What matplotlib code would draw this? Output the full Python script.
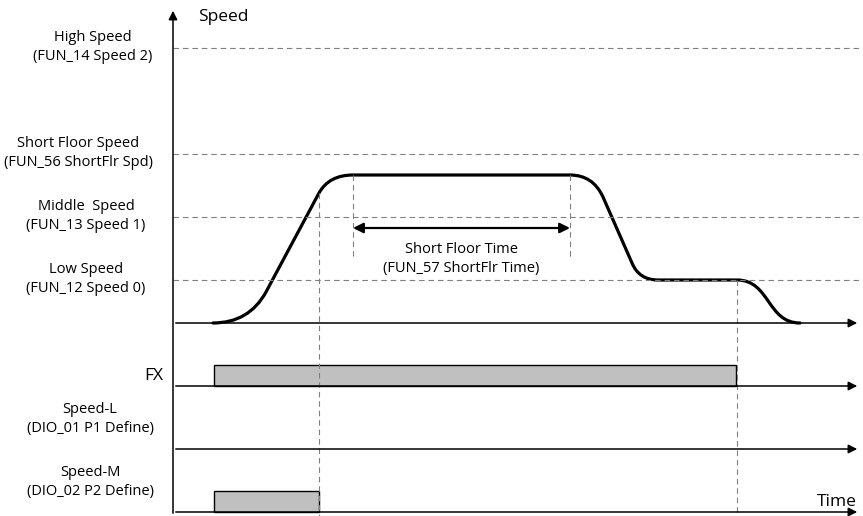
import matplotlib
matplotlib.use("Agg")
import matplotlib.pyplot as plt
from matplotlib.path import Path
from matplotlib.patches import PathPatch

plt.rcParams['font.family'] = ['Open Sans', 'DejaVu Sans']

# speed levels (y position on the diagram, pixel-like units, y grows downward)
level_labels = ["High Speed\n(FUN_14 Speed 2)", "Short Floor Speed\n(FUN_56 ShortFlr Spd)",
                "Middle  Speed\n(FUN_13 Speed 1)", "Low Speed\n(FUN_12 Speed 0)"]
level_y = [48, 154, 217, 280]
level_label_x = [93, 78, 86, 86]

# speed profile: vertices and path codes (quadratic/cubic corners)
profile_t = [213, 249, 266, 319, 329, 353, 570, 593, 603, 632, 639, 658, 737, 770, 767, 800]
profile_v = [323, 323, 292, 193, 175, 175, 175, 175, 197, 263, 280, 280, 280, 280, 323, 323]
profile_codes = [Path.MOVETO, Path.CURVE3, Path.CURVE3, Path.LINETO, Path.CURVE3, Path.CURVE3,
                 Path.LINETO, Path.CURVE3, Path.CURVE3, Path.LINETO, Path.CURVE3, Path.CURVE3,
                 Path.LINETO, Path.CURVE4, Path.CURVE4, Path.CURVE4]

# signal rows
sig_names = ["FX", "Speed-L\n(DIO_01 P1 Define)", "Speed-M\n(DIO_02 P2 Define)"]
sig_base = [386, 449, 512]
sig_on = [214, None, 214]
sig_off = [736, None, 319]
sig_high = 21
speed_base = 323

# timing marks
mark_t = [319, 353, 570, 737]
mark_top = [193, 175, 175, 280]
mark_bottom = [516, 260, 260, 516]
sft_start, sft_end, sft_y = 353, 570, 228

axis_x = 173
x_end = 860

fig = plt.figure(figsize=(8.63, 5.16), dpi=100)
ax = fig.add_axes([0, 0, 1, 1])
ax.set_xlim(0, 863)
ax.set_ylim(516, 0)
ax.axis('off')

dash = dict(color='#808080', lw=0.8, ls=(0, (5, 3.5)))

# speed level dashed lines + labels
for lab, y, lx in zip(level_labels, level_y, level_label_x):
    ax.plot([axis_x, 863], [y, y], **dash)
    ax.text(lx, y - 1, lab, ha='center', va='center', fontsize=10.5, linespacing=1.32)

# timing dashed verticals
for t, y0, y1 in zip(mark_t, mark_top, mark_bottom):
    ax.plot([t, t], [y0, y1], **dash)

# vertical speed axis
ax.annotate('', xy=(axis_x, 8), xytext=(axis_x, 516),
            arrowprops=dict(arrowstyle='-|>', color='black', lw=1.1, mutation_scale=13))
ax.text(198, 17, "Speed", ha='left', va='center', fontsize=12.5)

# horizontal baselines with arrows
for y in [speed_base] + sig_base:
    ax.annotate('', xy=(x_end, y), xytext=(axis_x, y),
                arrowprops=dict(arrowstyle='-|>', color='black', lw=1.1, mutation_scale=13))

# speed profile curve
path = Path(list(zip(profile_t, profile_v)), profile_codes)
ax.add_patch(PathPatch(path, facecolor='none', edgecolor='black', lw=2.3,
                       capstyle='round', joinstyle='round'))

# short floor time arrow
ax.annotate('', xy=(sft_end, sft_y), xytext=(sft_start, sft_y),
            arrowprops=dict(arrowstyle='<|-|>', color='black', lw=1.6, mutation_scale=15,
                            shrinkA=0, shrinkB=0))
ax.text((sft_start + sft_end) / 2, 259, "Short Floor Time\n(FUN_57 ShortFlr Time)",
        ha='center', va='center', fontsize=10.5, linespacing=1.32)

# signal boxes and labels
for name, base, on, off in zip(sig_names, sig_base, sig_on, sig_off):
    if on is not None:
        ax.bar(on, -sig_high, width=off - on, bottom=base, align='edge',
               color='#c0c0c0', edgecolor='black', lw=1.0)
    if name == "FX":
        ax.text(163, base - 10, name, ha='right', va='center', fontsize=12.5)
    else:
        ax.text(90, base - 30, name, ha='center', va='center', fontsize=10.5, linespacing=1.32)

ax.text(857, 502, "Time", ha='right', va='center', fontsize=12.5)

fig.savefig("out.png", dpi=100)
